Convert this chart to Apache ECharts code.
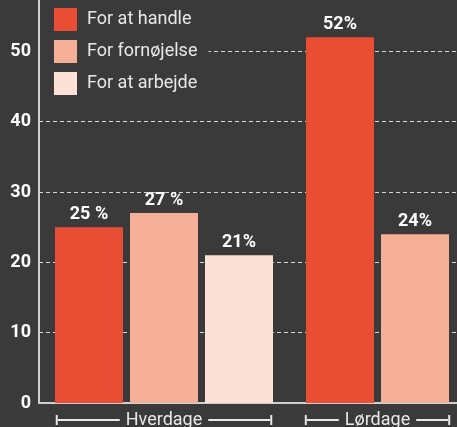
<!DOCTYPE html>
<html><head><meta charset="utf-8">
<script src="https://cdn.jsdelivr.net/npm/echarts@6/dist/echarts.min.js"></script>
<style>html,body{margin:0;padding:0;background:#3a3a3a}#c{width:457px;height:427px}</style>
</head><body><div id="c"></div>
<script>
const legendNames = ['For at handle', 'For fornøjelse', 'For at arbejde'];
const groups = ['Hverdage', 'Lørdage'];
const hverdageValues = [25, 27, 21];
const lordageValues = [52, 24];
const hverdageLabels = ['25 %', '27 %', '21%'];
const lordageLabels = ['52%', '24%'];
const colors = ['#E94E34', '#F5AF97', '#FCE1D6'];
const yMin = 0, yMax = 57.3, yStep = 10;

const FONT = 'Roboto';
const light = '#e8e8e8';
const chart = echarts.init(document.getElementById('c'), null, {renderer: 'canvas'});

function bracket(lineW) {
  return {
    formatter: v => `{cap| }{line| }{txt|${v}}{line| }{cap| }`,
    margin: 8,
    lineHeight: 18,
    rich: {
      cap: {width: 2, height: 10, backgroundColor: light},
      line: {width: lineW, height: 2, backgroundColor: light},
      txt: {color: light, fontSize: 18, lineHeight: 18, fontFamily: FONT, padding: [0, 6]}
    }
  };
}

const hidden = {show: false};
const valueLabel = arr => ({
  show: true, position: 'top', distance: 4, color: '#ffffff',
  fontSize: 18, fontWeight: 'bold', fontFamily: FONT,
  formatter: p => arr[p.dataIndex]
});

const series = [];
hverdageValues.forEach((v, i) => series.push({
  type: 'bar', name: legendNames[i], xAxisIndex: 1, yAxisIndex: 1,
  data: [v], barWidth: 68, barGap: '10.3%',
  itemStyle: {color: colors[i]},
  label: valueLabel([hverdageLabels[i]])
}));
lordageValues.forEach((v, i) => series.push({
  type: 'bar', name: legendNames[i], xAxisIndex: 2, yAxisIndex: 2,
  data: [v], barWidth: 68, barGap: '10.3%',
  itemStyle: {color: colors[i]},
  label: valueLabel([lordageLabels[i]])
}));

const yBase = {type: 'value', min: yMin, max: yMax, interval: yStep};

chart.setOption({
  backgroundColor: '#3a3a3a',
  animation: false,
  legend: {
    orient: 'vertical', left: 40, top: 0,
    padding: [8, 11, 8, 14],
    backgroundColor: '#3a3a3a',
    itemWidth: 23, itemHeight: 23, itemGap: 9,
    icon: 'rect',
    data: legendNames,
    textStyle: {color: light, fontSize: 18, fontFamily: FONT, padding: [0, 0, 0, 5]}
  },
  grid: [
    {left: 39, right: 0, top: 0, bottom: 24, outerBoundsMode: 'none', containLabel: false},
    {left: 39, width: 250, top: 0, bottom: 24, outerBoundsMode: 'none', containLabel: false},
    {left: 298, right: 0, top: 0, bottom: 24, outerBoundsMode: 'none', containLabel: false}
  ],
  xAxis: [
    {gridIndex: 0, type: 'value', min: 0, max: 1, axisLabel: hidden, axisTick: hidden, splitLine: hidden,
     axisLine: {show: true, lineStyle: {color: '#cfcfcf', width: 2}}},
    {gridIndex: 1, type: 'category', data: [groups[0]], axisLine: hidden, axisTick: hidden, axisLabel: bracket(62)},
    {gridIndex: 2, type: 'category', data: [groups[1]], axisLine: hidden, axisTick: hidden, axisLabel: bracket(32)}
  ],
  yAxis: [
    Object.assign({gridIndex: 0,
      axisLine: {show: true, lineStyle: {color: '#cfcfcf', width: 2}},
      axisTick: hidden,
      axisLabel: {color: '#ffffff', fontSize: 18, fontWeight: 'bold', fontFamily: FONT, margin: 8, showMaxLabel: false},
      splitLine: {show: true, showMaxLine: false, lineStyle: {color: 'rgba(255,255,255,0.8)', type: [4, 3], width: 1}}
    }, yBase),
    Object.assign({gridIndex: 1, show: false, splitLine: hidden}, yBase),
    Object.assign({gridIndex: 2, show: false, splitLine: hidden}, yBase)
  ],
  series: series
});
</script>
</body></html>
